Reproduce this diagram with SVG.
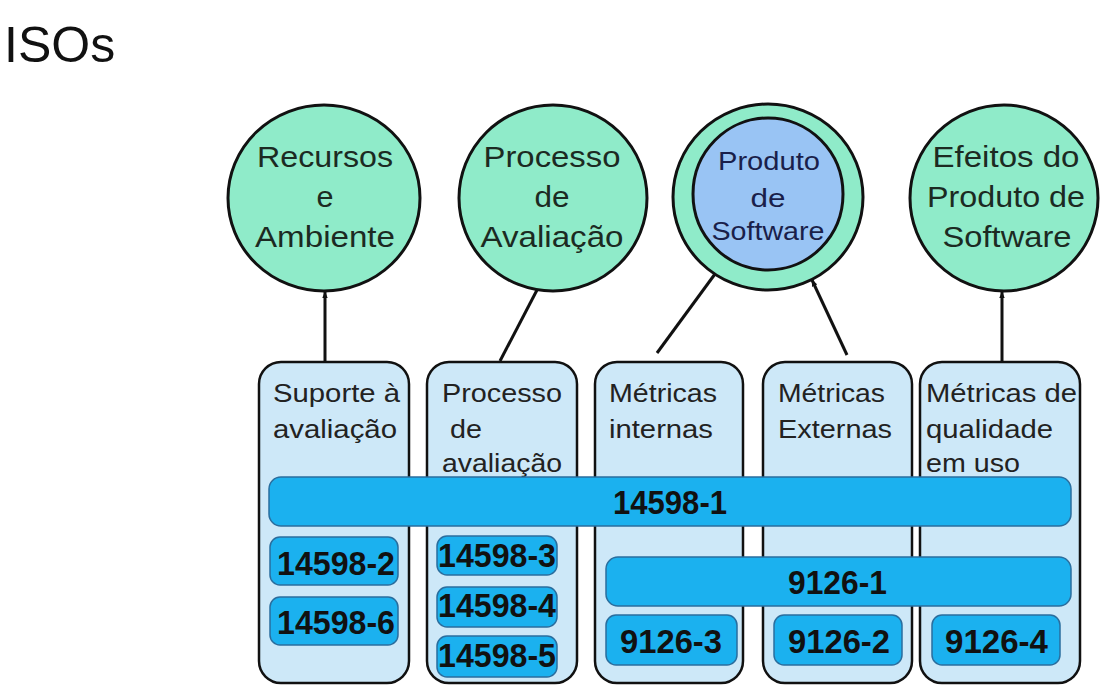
<svg xmlns="http://www.w3.org/2000/svg" width="1106" height="696" viewBox="0 0 1106 696">
<defs>
<marker id="arr" viewBox="0 0 10 10" refX="9" refY="5" markerWidth="7" markerHeight="7" orient="auto" markerUnits="userSpaceOnUse">
<path d="M0,1 L10,5 L0,9 z" fill="#111"/>
</marker>
</defs>
<style>
text{font-family:"Liberation Sans",Arial,sans-serif}
.title{font-size:50px;fill:#111}
.circ{fill:#8FEBC9;stroke:#111;stroke-width:3}
.inner{fill:#99C4F4;stroke:#111;stroke-width:3}
.ct{font-size:29px;fill:#1c2a22;text-anchor:middle}
.pt{font-size:26px;fill:#1a1f4a;text-anchor:middle}
.col{fill:#CDE8F8;stroke:#111;stroke-width:2.5}
.colt{font-size:25px;fill:#222}
.bar{fill:#1BB1EF;stroke:#2A6E9E;stroke-width:1.5}
.bt{font-size:33px;font-weight:bold;fill:#111}
.conn{stroke:#111;stroke-width:3;fill:none}
</style>
<rect width="1106" height="696" fill="#fff"/>
<text class="title" x="4" y="62">ISOs</text>

<g id="connectors">
<line class="conn" x1="325" y1="362" x2="325" y2="292" marker-end="url(#arr)"/>
<line class="conn" x1="500" y1="361" x2="537" y2="290"/>
<line class="conn" x1="657" y1="353" x2="726" y2="259"/>
<line class="conn" x1="847" y1="355" x2="812" y2="280" marker-end="url(#arr)"/>
<line class="conn" x1="1002" y1="362" x2="1002" y2="292" marker-end="url(#arr)"/>
</g>

<g id="node-recursos">
<ellipse class="circ" cx="324" cy="198" rx="96" ry="93"/>
<text class="ct" x="325" y="167" textLength="136" lengthAdjust="spacingAndGlyphs">Recursos</text>
<text class="ct" x="325" y="207" textLength="17" lengthAdjust="spacingAndGlyphs">e</text>
<text class="ct" x="325" y="247" textLength="140" lengthAdjust="spacingAndGlyphs">Ambiente</text>
</g>

<g id="node-processo">
<ellipse class="circ" cx="553" cy="198" rx="94" ry="93"/>
<text class="ct" x="552" y="167" textLength="137" lengthAdjust="spacingAndGlyphs">Processo</text>
<text class="ct" x="552" y="207" textLength="35" lengthAdjust="spacingAndGlyphs">de</text>
<text class="ct" x="552" y="247" textLength="143" lengthAdjust="spacingAndGlyphs">Avaliação</text>
</g>

<g id="node-produto">
<ellipse class="circ" cx="768" cy="197" rx="95" ry="93"/>
<ellipse class="inner" cx="768" cy="194" rx="75" ry="76"/>
<text class="pt" x="769" y="170" textLength="102" lengthAdjust="spacingAndGlyphs">Produto</text>
<text class="pt" x="768" y="207" textLength="35" lengthAdjust="spacingAndGlyphs">de</text>
<text class="pt" x="768" y="240" textLength="113" lengthAdjust="spacingAndGlyphs">Software</text>
</g>

<g id="node-efeitos">
<ellipse class="circ" cx="1004" cy="198" rx="94" ry="93"/>
<text class="ct" x="1006" y="167" textLength="147" lengthAdjust="spacingAndGlyphs">Efeitos do</text>
<text class="ct" x="1006" y="207" textLength="158" lengthAdjust="spacingAndGlyphs">Produto de</text>
<text class="ct" x="1007" y="247" textLength="129" lengthAdjust="spacingAndGlyphs">Software</text>
</g>

<g id="col-suporte">
<rect class="col" x="259" y="362" width="150" height="321" rx="22"/>
<text class="colt" x="273" y="402" textLength="127" lengthAdjust="spacingAndGlyphs">Suporte à</text>
<text class="colt" x="273" y="438" textLength="124" lengthAdjust="spacingAndGlyphs">avaliação</text>
</g>
<g id="col-processo">
<rect class="col" x="427" y="362" width="150" height="321" rx="22"/>
<text class="colt" x="442" y="402" textLength="120" lengthAdjust="spacingAndGlyphs">Processo</text>
<text class="colt" x="450" y="438" textLength="32" lengthAdjust="spacingAndGlyphs">de</text>
<text class="colt" x="442" y="472" textLength="120" lengthAdjust="spacingAndGlyphs">avaliação</text>
</g>
<g id="col-internas">
<rect class="col" x="595" y="362" width="148" height="321" rx="22"/>
<text class="colt" x="609" y="402" textLength="108" lengthAdjust="spacingAndGlyphs">Métricas</text>
<text class="colt" x="609" y="438" textLength="104" lengthAdjust="spacingAndGlyphs">internas</text>
</g>
<g id="col-externas">
<rect class="col" x="763" y="362" width="149" height="321" rx="22"/>
<text class="colt" x="778" y="402" textLength="107" lengthAdjust="spacingAndGlyphs">Métricas</text>
<text class="colt" x="778" y="438" textLength="114" lengthAdjust="spacingAndGlyphs">Externas</text>
</g>
<g id="col-uso">
<rect class="col" x="920" y="362" width="160" height="321" rx="22"/>
<text class="colt" x="926" y="402" textLength="151" lengthAdjust="spacingAndGlyphs">Métricas de</text>
<text class="colt" x="926" y="438" textLength="127" lengthAdjust="spacingAndGlyphs">qualidade</text>
<text class="colt" x="926" y="472" textLength="94" lengthAdjust="spacingAndGlyphs">em uso</text>
</g>

<g id="bar-14598-1">
<rect class="bar" x="269" y="477" width="802" height="49" rx="12"/>
<text class="bt" x="613" y="514" textLength="114" lengthAdjust="spacingAndGlyphs">14598-1</text>
</g>
<g id="bar-9126-1">
<rect class="bar" x="606" y="557" width="465" height="49" rx="12"/>
<text class="bt" x="788" y="594" textLength="99" lengthAdjust="spacingAndGlyphs">9126-1</text>
</g>
<g id="box-14598-2">
<rect class="bar" x="270" y="537" width="128" height="48" rx="10"/>
<text class="bt" x="277" y="575" textLength="118" lengthAdjust="spacingAndGlyphs">14598-2</text>
</g>
<g id="box-14598-6">
<rect class="bar" x="270" y="597" width="128" height="48" rx="10"/>
<text class="bt" x="277" y="634" textLength="118" lengthAdjust="spacingAndGlyphs">14598-6</text>
</g>
<g id="box-14598-3">
<rect class="bar" x="437" y="536" width="120" height="39" rx="10"/>
<text class="bt" x="438" y="567" textLength="118" lengthAdjust="spacingAndGlyphs">14598-3</text>
</g>
<g id="box-14598-4">
<rect class="bar" x="437" y="587" width="120" height="40" rx="10"/>
<text class="bt" x="438" y="617" textLength="118" lengthAdjust="spacingAndGlyphs">14598-4</text>
</g>
<g id="box-14598-5">
<rect class="bar" x="437" y="636" width="120" height="41" rx="10"/>
<text class="bt" x="438" y="667" textLength="118" lengthAdjust="spacingAndGlyphs">14598-5</text>
</g>
<g id="box-9126-3">
<rect class="bar" x="606" y="615" width="131" height="50" rx="10"/>
<text class="bt" x="620" y="653" textLength="102" lengthAdjust="spacingAndGlyphs">9126-3</text>
</g>
<g id="box-9126-2">
<rect class="bar" x="774" y="615" width="128" height="50" rx="10"/>
<text class="bt" x="788" y="653" textLength="102" lengthAdjust="spacingAndGlyphs">9126-2</text>
</g>
<g id="box-9126-4">
<rect class="bar" x="932" y="615" width="128" height="50" rx="10"/>
<text class="bt" x="945" y="653" textLength="103" lengthAdjust="spacingAndGlyphs">9126-4</text>
</g>
</svg>
